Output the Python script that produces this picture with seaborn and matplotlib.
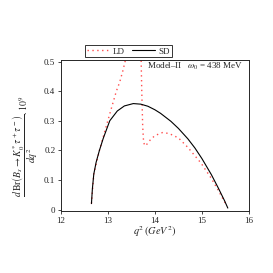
import numpy as np
import pandas as pd
import matplotlib
matplotlib.use("Agg")
import matplotlib.pyplot as plt
import seaborn as sns

# SD curve (solid black)
sd_q2 = [12.65, 12.67, 12.70, 12.75, 12.82, 12.90, 13.04, 13.20, 13.35, 13.54,
         13.70, 13.85, 14.00, 14.12, 14.34, 14.50, 14.70, 14.85, 15.00, 15.20,
         15.35, 15.48, 15.55]
sd_val = [0.02, 0.07, 0.12, 0.16, 0.20, 0.24, 0.30, 0.333, 0.35, 0.358,
          0.356, 0.349, 0.337, 0.325, 0.298, 0.274, 0.239, 0.208, 0.172, 0.118,
          0.072, 0.030, 0.005]

# LD curve (red dotted), runs off the top near the resonance
ld_q2 = [12.65, 12.70, 12.82, 12.90, 13.07, 13.18, 13.25, 13.32, 13.38, 13.42,
         13.70, 13.72, 13.74, 13.76, 13.80, 13.90, 14.00, 14.16, 14.30, 14.50,
         14.70, 14.98, 15.20, 15.34, 15.45, 15.52]
ld_val = [0.02, 0.12, 0.20, 0.245, 0.34, 0.40, 0.43, 0.47, 0.51, 0.56,
          0.56, 0.40, 0.28, 0.225, 0.215, 0.235, 0.25, 0.26, 0.257, 0.242,
          0.21, 0.157, 0.105, 0.067, 0.035, 0.015]

sns.set_style("ticks")
plt.rcParams["font.family"] = ["Liberation Serif", "DejaVu Serif"]
plt.rcParams["mathtext.fontset"] = "stix"

fig = plt.figure(figsize=(2.73, 2.73), dpi=100)
ax = fig.add_axes([0.223, 0.227, 0.689, 0.553])

sns.lineplot(x=ld_q2, y=ld_val, ax=ax, color="#ff4d4d", linestyle=(0, (1, 2.5)),
             linewidth=1.0, estimator=None, sort=False, label="LD")
sns.lineplot(x=sd_q2, y=sd_val, ax=ax, color="black", linewidth=0.8,
             estimator=None, sort=False, label="SD")

ax.set_xlim(12, 16)
ax.set_ylim(-0.005, 0.505)
ax.set_xticks([12, 13, 14, 15, 16])
ax.set_yticks([0, 0.1, 0.2, 0.3, 0.4, 0.5])
ax.set_yticklabels(["0", "0.1", "0.2", "0.3", "0.4", "0.5"])
ax.tick_params(labelsize=6.5, length=2.5, width=0.6, pad=1.5)
for s in ax.spines.values():
    s.set_linewidth(0.7)
    s.set_visible(True)

ax.set_xlabel(r"$q^2\,(GeV^2)$", fontsize=7.5, labelpad=0)
ax.set_ylabel(r"$\dfrac{d\,\mathrm{Br}\left(B_s\to K_0^{*}\,\tau^+\tau^-\right)}{dq^2}.10^9$",
              fontsize=7)
ax.yaxis.set_label_coords(-0.11, 0.43)

ax.text(0.46, 0.955, r"Model–II   $\omega_0$ = 438 MeV", transform=ax.transAxes,
        fontsize=6.5, va="center", ha="left")

leg = ax.legend(loc="lower center", bbox_to_anchor=(0.36, 1.0), ncol=2,
                fontsize=6.5, frameon=True, fancybox=False, edgecolor="black",
                handlelength=2.5, columnspacing=0.8, handletextpad=0.4,
                borderpad=0.2, borderaxespad=0.3)
leg.get_frame().set_linewidth(0.7)

fig.savefig("out.png", dpi=100)
